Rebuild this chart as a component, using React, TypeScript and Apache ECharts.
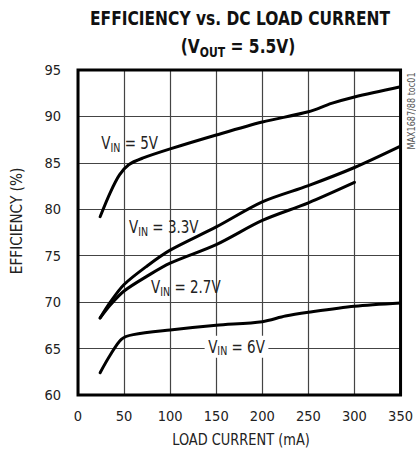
import React, { useEffect, useRef } from "react";
import * as echarts from "echarts";

const FONT = "'Liberation Sans Narrow', 'Arial Narrow', 'DejaVu Sans Condensed', 'Roboto Condensed', sans-serif";

const X_MIN = 0;
const X_MAX = 350;
const X_STEP = 50;
const Y_MIN = 60;
const Y_MAX = 95;
const Y_STEP = 5;

const x5 = [24, 35, 45, 55, 70, 100, 150, 200, 250, 275, 300, 350];
const y5 = [79.2, 81.8, 83.7, 84.8, 85.5, 86.5, 88.0, 89.4, 90.5, 91.4, 92.1, 93.2];

const x33 = [24, 35, 50, 75, 100, 150, 200, 250, 300, 350];
const y33 = [68.3, 70.0, 71.9, 73.9, 75.6, 78.1, 80.8, 82.55, 84.5, 86.8];

const x27 = [24, 35, 50, 75, 100, 150, 200, 250, 300];
const y27 = [68.3, 69.7, 71.2, 72.8, 74.2, 76.2, 78.8, 80.7, 82.9];

const x6 = [24, 35, 47, 60, 100, 150, 200, 225, 250, 300, 350];
const y6 = [62.4, 64.3, 66.0, 66.5, 67.0, 67.5, 67.9, 68.5, 68.9, 69.55, 69.9];

const seriesNames = ["VIN = 5V", "VIN = 3.3V", "VIN = 2.7V", "VIN = 6V"];
const labelMain = ["5V", "3.3V", "2.7V", "6V"];
const labelAnchors: [number, number][] = [
  [56, 87.1],
  [93, 78.1],
  [117, 71.6],
  [172, 65.2],
];

const zip = (xs: number[], ys: number[]) => xs.map((x, i) => [x, ys[i]]);

export default function App() {
  const ref = useRef<HTMLDivElement>(null);
  useEffect(() => {
    document.body.style.margin = "0";
    if (!ref.current) return;
    const chart = echarts.init(ref.current, undefined, { renderer: "svg" });
    const mk = (name: string, xs: number[], ys: number[]) => ({
      name,
      type: "line",
      data: zip(xs, ys),
      smooth: 0.3,
      showSymbol: false,
      symbol: "none",
      lineStyle: { color: "#000", width: 3, cap: "round", join: "round" },
      z: 5,
    });
    chart.setOption({
      animation: false,
      backgroundColor: "#fff",
      grid: {
        left: 78,
        right: 13,
        top: 70,
        bottom: 60,
        show: true,
        borderColor: "#000",
        borderWidth: 3,
        backgroundColor: "transparent",
        z: 3,
      },
      xAxis: {
        type: "value",
        min: X_MIN,
        max: X_MAX,
        interval: X_STEP,
        axisLine: { show: false },
        axisTick: { show: false },
        axisLabel: { fontFamily: FONT, fontSize: 14.5, color: "#222", margin: 13 },
        splitLine: { show: true, lineStyle: { color: "#444", width: 1.2 } },
      },
      yAxis: {
        type: "value",
        min: Y_MIN,
        max: Y_MAX,
        interval: Y_STEP,
        axisLine: { show: false },
        axisTick: { show: false },
        axisLabel: { fontFamily: FONT, fontSize: 14.5, color: "#222", margin: 17 },
        splitLine: { show: true, lineStyle: { color: "#444", width: 1.2 } },
      },
      series: [mk(seriesNames[0], x5, y5), mk(seriesNames[1], x33, y33), mk(seriesNames[2], x27, y27), mk(seriesNames[3], x6, y6)],
    });

    const rich = {
      m: { fontFamily: FONT, fontSize: 17, fill: "#222", lineHeight: 22, verticalAlign: "middle" },
      s: { fontFamily: FONT, fontSize: 12, fill: "#222", lineHeight: 22, verticalAlign: "bottom" },
    };
    const labels = labelAnchors.map((a, i) => {
      const p = chart.convertToPixel({ gridIndex: 0 }, a) as number[];
      return {
        type: "text",
        x: p[0],
        y: p[1],
        scaleX: 0.88,
        z: 10,
        style: {
          text: `{m|V}{s|IN}{m| = ${labelMain[i]}}`,
          rich,
          align: "center",
          verticalAlign: "middle",
          backgroundColor: i === 3 ? "#fff" : undefined,
          padding: i === 3 ? [0, 4] : 0,
        },
      };
    });

    chart.setOption({
      graphic: [
        {
          type: "text",
          x: 240,
          y: 18,
          scaleX: 0.86,
          style: {
            text: "EFFICIENCY vs. DC LOAD CURRENT",
            fontFamily: FONT,
            fontSize: 20,
            fontWeight: "bold",
            fill: "#111",
            align: "center",
            verticalAlign: "middle",
          },
        },
        {
          type: "text",
          x: 238,
          y: 46,
          scaleX: 0.86,
          style: {
            text: "{m|(V}{s|OUT}{m| = 5.5V)}",
            rich: {
              m: { fontFamily: FONT, fontSize: 20, fontWeight: "bold", fill: "#111", lineHeight: 26, verticalAlign: "middle" },
              s: { fontFamily: FONT, fontSize: 14, fontWeight: "bold", fill: "#111", lineHeight: 26, verticalAlign: "bottom" },
            },
            align: "center",
            verticalAlign: "middle",
          },
        },
        {
          type: "text",
          x: 241,
          y: 440,
          scaleX: 0.9,
          style: {
            text: "LOAD CURRENT (mA)",
            fontFamily: FONT,
            fontSize: 16,
            fill: "#222",
            align: "center",
            verticalAlign: "middle",
          },
        },
        {
          type: "text",
          x: 17,
          y: 221,
          rotation: Math.PI / 2,
          scaleX: 0.95,
          style: {
            text: "EFFICIENCY (%)",
            fontFamily: FONT,
            fontSize: 16,
            fill: "#222",
            align: "center",
            verticalAlign: "middle",
          },
        },
        {
          type: "text",
          x: 411,
          y: 111,
          rotation: Math.PI / 2,
          scaleX: 0.9,
          style: {
            text: "MAX1687/88 toc01",
            fontFamily: FONT,
            fontSize: 10,
            fill: "#555",
            align: "center",
            verticalAlign: "middle",
          },
        },
        ...labels,
      ],
    });
    return () => chart.dispose();
  }, []);
  return <div ref={ref} style={{ position: "absolute", left: 0, top: 0, width: 416, height: 455 }} />;
}
